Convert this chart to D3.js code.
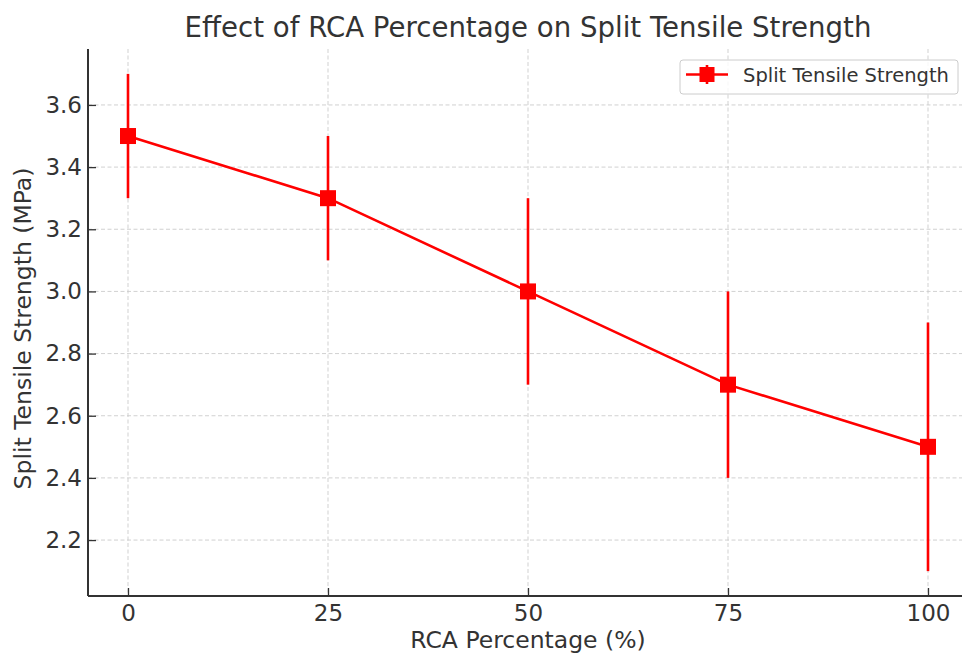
<!DOCTYPE html>
<html><head><meta charset="utf-8">
<script src="https://cdn.jsdelivr.net/npm/d3@7"></script>
<style>body{margin:0;background:#fff}svg{display:block;font-family:"DejaVu Sans",sans-serif}</style>
</head><body><svg id="c" width="962" height="654"></svg>
<script>
const rcaPercent = [0, 25, 50, 75, 100];
const tensileStrength = [3.5, 3.3, 3.0, 2.7, 2.5];
const errorValues = [0.2, 0.2, 0.3, 0.3, 0.4];
const xTicks = [0, 25, 50, 75, 100];
const yTicks = [2.2, 2.4, 2.6, 2.8, 3.0, 3.2, 3.4, 3.6];
const seriesName = "Split Tensile Strength";

const svg = d3.select("#c");
const L = 88, R = 968, T = 49, B = 596;
const x = d3.scaleLinear().domain([-5, 105]).range([L, R]);
const y = d3.scaleLinear().domain([2.02, 3.78]).range([B, T]);
const txt = "#333";

// grid
svg.append("g").selectAll("line").data(yTicks).join("line")
  .attr("x1", L).attr("x2", R).attr("y1", d => y(d)).attr("y2", d => y(d))
  .attr("stroke", "#cccccc").attr("stroke-width", 0.9).attr("stroke-dasharray", "4,2.5");
svg.append("g").selectAll("line").data(xTicks).join("line")
  .attr("y1", T).attr("y2", B).attr("x1", d => x(d)).attr("x2", d => x(d))
  .attr("stroke", "#cccccc").attr("stroke-width", 0.9).attr("stroke-dasharray", "4,2.5");

// axes (ticks pointing inward)
const xAxis = svg.append("g").attr("transform", `translate(0,${B})`)
  .call(d3.axisBottom(x).tickValues(xTicks).tickSizeInner(-8).tickSizeOuter(0).tickPadding(9).tickFormat(d3.format("d")));
const yAxis = svg.append("g").attr("transform", `translate(${L},0)`)
  .call(d3.axisLeft(y).tickValues(yTicks).tickSizeInner(-8).tickSizeOuter(0).tickPadding(6).tickFormat(d3.format(".1f")));
[xAxis, yAxis].forEach(a => {
  a.select(".domain").attr("stroke", "#333").attr("stroke-width", 2);
  a.selectAll(".tick line").attr("stroke", "#333").attr("stroke-width", 1.3);
  a.selectAll(".tick text").attr("fill", txt).attr("font-size", 23).attr("font-family", "DejaVu Sans");
});
xAxis.select(".domain").attr("d", `M${L},0H${R}`);
yAxis.select(".domain").attr("d", `M0,${B}V${T}`);
xAxis.selectAll(".tick text").attr("y", 9).attr("dy", "0.71em");
yAxis.selectAll(".tick text").attr("x", -6);

// error bars
const data = rcaPercent.map((p, i) => ({p, v: tensileStrength[i], e: errorValues[i]}));
svg.append("g").selectAll("line").data(data).join("line")
  .attr("x1", d => x(d.p)).attr("x2", d => x(d.p))
  .attr("y1", d => y(d.v - d.e)).attr("y2", d => y(d.v + d.e))
  .attr("stroke", "#ff0000").attr("stroke-width", 2.6);

// line
svg.append("path").datum(data)
  .attr("d", d3.line().x(d => x(d.p)).y(d => y(d.v)))
  .attr("fill", "none").attr("stroke", "#ff0000").attr("stroke-width", 2.6);

// markers
const ms = 16;
svg.append("g").selectAll("rect").data(data).join("rect")
  .attr("x", d => x(d.p) - ms/2).attr("y", d => y(d.v) - ms/2)
  .attr("width", ms).attr("height", ms).attr("fill", "#ff0000");

// title & labels
svg.append("text").attr("x", (L + R) / 2).attr("y", 37).attr("text-anchor", "middle")
  .attr("font-size", 27.6).attr("fill", txt).text("Effect of RCA Percentage on Split Tensile Strength");
svg.append("text").attr("x", (L + R) / 2).attr("y", 648).attr("text-anchor", "middle")
  .attr("font-size", 23.5).attr("fill", txt).text("RCA Percentage (%)");
svg.append("text").attr("transform", `translate(31,${(T + B) / 2 + 6}) rotate(-90)`).attr("text-anchor", "middle")
  .attr("font-size", 23.5).attr("fill", txt).text("Split Tensile Strength (MPa)");

// legend
const lg = svg.append("g").attr("transform", "translate(680,60)");
lg.append("rect").attr("x", 0).attr("y", 0).attr("width", 278).attr("height", 34).attr("rx", 3)
  .attr("fill", "#fff").attr("fill-opacity", 0.8).attr("stroke", "#ccc").attr("stroke-width", 1);
lg.append("line").attr("x1", 6).attr("x2", 48).attr("y1", 14.5).attr("y2", 14.5).attr("stroke", "#ff0000").attr("stroke-width", 2.6);
lg.append("line").attr("x1", 27).attr("x2", 27).attr("y1", 5).attr("y2", 24).attr("stroke", "#ff0000").attr("stroke-width", 2.6);
lg.append("rect").attr("x", 27 - 7.5).attr("y", 14.5 - 7.5).attr("width", 15).attr("height", 15).attr("fill", "#ff0000");
lg.append("text").attr("x", 63).attr("y", 22).attr("font-size", 19.5).attr("fill", txt).text(seriesName);
</script></body></html>
